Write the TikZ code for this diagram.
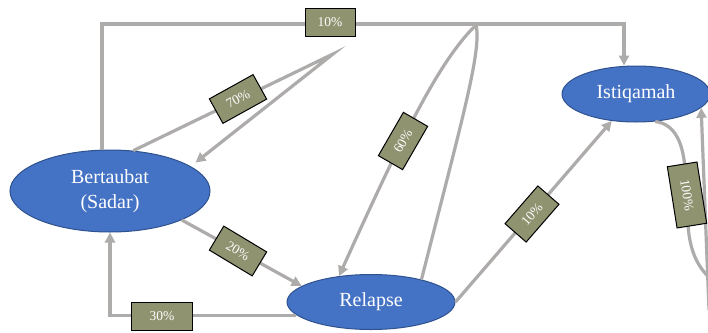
\documentclass[tikz,border=0pt]{standalone}
\usepackage{fontspec}
\setmainfont{Liberation Serif}
\usetikzlibrary{shapes.geometric,arrows.meta}
\definecolor{ellfill}{HTML}{4472C4}
\definecolor{ellline}{HTML}{2F528F}
\definecolor{labfill}{HTML}{8F9370}
\definecolor{conncol}{HTML}{AEABAB}
\begin{document}
\begin{tikzpicture}[x=1pt,y=-1pt,
  state/.style={ellipse, draw=ellline, line width=1pt, fill=ellfill, text=white,
    font=\fontsize{20}{25}\selectfont, inner sep=0pt, align=center},
  lab/.style={draw=black, line width=1pt, fill=labfill, text=white,
    font=\fontsize{13.5}{15}\selectfont, minimum width=50pt, minimum height=28pt, inner sep=0pt},
  conn/.style={draw=conncol, line width=3.2pt},
  arr/.style={-{Triangle[length=10pt,width=10pt]}}]
\useasboundingbox (0,0) rectangle (708,332);
\clip (0,0) rectangle (708,332);
\fill[white] (0,0) rectangle (708,332);
% states
\node[state, minimum width=200pt, minimum height=82pt] (bert) at (110,191) {Bertaubat\\(Sadar)};
\node[state, minimum width=168pt, minimum height=55pt] (rel) at (371,302) {Relapse};
\node[state, minimum width=148pt, minimum height=56pt] (ist) at (636,94) {Istiqamah};
% waypoints
\coordinate (tl) at (102,24);
\coordinate (tr) at (624,24);
\coordinate (ap1) at (333,54);
\coordinate (ap2) at (476,25);
\coordinate (e100) at (714,282);
\coordinate (s100) at (709,310);
% connectors
\draw[conn,arr] (bert.north -| tl) -- (tl) -- (tr) -- (ist.north -| tr);
\draw[conn,arr,shorten >=6pt] (bert.60) -- (ap1) -- (bert.17);
\draw[conn] (rel.24) .. controls (462,120) and (482,50) .. (ap2);
\draw[conn,arr] (ap2) .. controls (440,60) and (405,130) .. (rel.141);
\draw[conn,arr] (bert.-22) -- (rel.167);
\draw[conn,arr] (rel.190) -| (bert.south);
\draw[conn,arr] (rel.east) -- (ist.228);
\draw[conn] (ist.-55) .. controls (676,124) and (683,145) .. (685,168) -- (688,225) .. controls (690,255) and (700,270) .. (e100);
\draw[conn,arr] (s100) -- (ist.-12);
% labels
\node[lab] (l10a) at (330,22) {10\%};
\node[lab, rotate=29] (l70) at (238,99) {70\%};
\node[lab, rotate=60] (l60) at (403,141) {60\%};
\node[lab, rotate=-31] (l20) at (238,251) {20\%};
\node[lab, minimum width=61pt] (l30) at (162,316) {30\%};
\node[lab, rotate=49] (l10b) at (532,214) {10\%};
\node[lab, rotate=-81, minimum width=62pt, minimum height=30pt] (l100) at (687,195) {100\%};
\end{tikzpicture}
\end{document}
